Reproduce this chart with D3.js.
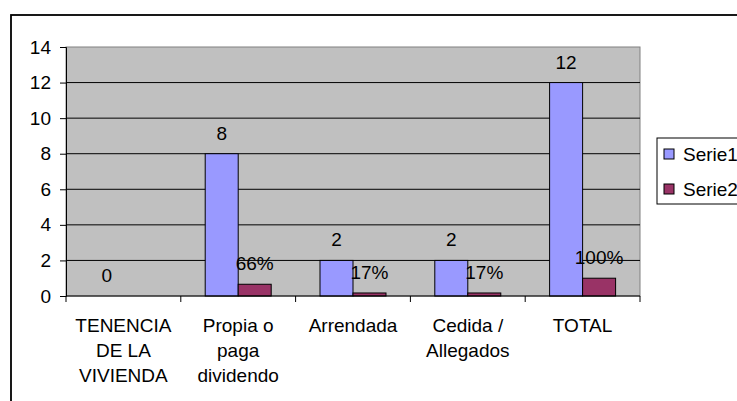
<!DOCTYPE html>
<html>
<head>
<meta charset="utf-8">
<script src="https://cdn.jsdelivr.net/npm/d3@7"></script>
<style>
  html, body { margin: 0; padding: 0; background: #fff; }
  svg { display: block; font-family: "Liberation Sans", Arial, sans-serif; }
</style>
</head>
<body>
<script>
// chart data
const categories = [["TENENCIA", "DE LA", "VIVIENDA"], ["Propia o", "paga", "dividendo"], ["Arrendada"], ["Cedida /", "Allegados"], ["TOTAL"]];
const serie1 = [0, 8, 2, 2, 12];
const serie2 = [null, 0.66, 0.17, 0.17, 1];
const serie2Labels = [null, "66%", "17%", "17%", "100%"];
const yTicks = [0, 2, 4, 6, 8, 10, 12, 14];
const seriesNames = ["Serie1", "Serie2"];
const colors = ["#9999FF", "#993366"];

const width = 737, height = 401;
const plot = { left: 66, top: 47, right: 640, bottom: 296 };
const fontSize = 19;

const svg = d3.select("body").append("svg")
    .attr("width", width)
    .attr("height", height);

// outer chart border (cut off at right and bottom)
svg.append("rect")
    .attr("x", 11).attr("y", 15)
    .attr("width", width + 20).attr("height", height + 20)
    .attr("fill", "#fff")
    .attr("stroke", "#000")
    .attr("stroke-width", 1.8);

const x = d3.scaleBand()
    .domain(d3.range(categories.length))
    .range([plot.left, plot.right]);
const inner = d3.scaleBand()
    .domain([0, 1])
    .range([0, 66])
    .paddingInner(0);
const y = d3.scaleLinear()
    .domain([0, 14])
    .range([plot.bottom, plot.top]);

// plot area
svg.append("rect")
    .attr("x", plot.left).attr("y", plot.top)
    .attr("width", plot.right - plot.left).attr("height", plot.bottom - plot.top)
    .attr("fill", "#C0C0C0")
    .attr("stroke", "#808080")
    .attr("stroke-width", 1);

// gridlines
svg.append("g")
    .selectAll("line")
    .data(yTicks.slice(1, -1))
    .join("line")
    .attr("x1", plot.left).attr("x2", plot.right)
    .attr("y1", d => y(d)).attr("y2", d => y(d))
    .attr("stroke", "#000")
    .attr("stroke-width", 1);

// y axis
const yAxis = svg.append("g")
    .attr("transform", `translate(${plot.left},0)`)
    .call(d3.axisLeft(y).tickValues(yTicks).tickSize(6).tickPadding(9));
yAxis.selectAll("text").attr("font-size", fontSize).attr("fill", "#000").attr("font-family", null);
yAxis.selectAll("line, path").attr("stroke", "#000");

const offset = (x.bandwidth() - inner.range()[1]) / 2;

// bars
const s1 = serie1.map((v, i) => ({ i, v, s: 0 }));
const s2 = serie2.map((v, i) => ({ i, v, s: 1, label: serie2Labels[i] })).filter(d => d.v != null);

svg.append("g")
    .selectAll("rect")
    .data(s1.concat(s2).filter(d => d.v > 0))
    .join("rect")
    .attr("x", d => x(d.i) + offset + inner(d.s))
    .attr("y", d => y(d.v))
    .attr("width", inner.bandwidth())
    .attr("height", d => y(0) - y(d.v))
    .attr("fill", d => colors[d.s])
    .attr("stroke", "#000")
    .attr("stroke-width", 1);

// x axis
const xAxis = svg.append("g")
    .attr("transform", `translate(0,${plot.bottom})`);
xAxis.append("line")
    .attr("x1", plot.left).attr("x2", plot.right)
    .attr("stroke", "#000");
xAxis.selectAll("line.tick")
    .data(d3.range(categories.length + 1))
    .join("line")
    .attr("class", "tick")
    .attr("x1", d => d < categories.length ? x(d) : plot.right)
    .attr("x2", d => d < categories.length ? x(d) : plot.right)
    .attr("y1", 0).attr("y2", 6)
    .attr("stroke", "#000");

const catLabels = svg.append("g")
    .attr("font-size", fontSize)
    .attr("text-anchor", "middle");
categories.forEach((lines, i) => {
    const t = catLabels.append("text")
        .attr("x", x(i) + x.bandwidth() / 2)
        .attr("y", plot.bottom + 36);
    lines.forEach((l, k) => {
        t.append("tspan")
            .attr("x", x(i) + x.bandwidth() / 2)
            .attr("dy", k === 0 ? 0 : 25)
            .text(l);
    });
});

// data labels
const labels = svg.append("g")
    .attr("font-size", fontSize)
    .attr("text-anchor", "middle");
labels.selectAll("text.s1")
    .data(s1)
    .join("text")
    .attr("class", "s1")
    .attr("x", d => x(d.i) + offset + inner(d.s) + inner.bandwidth() / 2)
    .attr("y", d => y(d.v) - 14)
    .text(d => d.v);
labels.selectAll("text.s2")
    .data(s2)
    .join("text")
    .attr("class", "s2")
    .attr("x", d => x(d.i) + offset + inner(d.s) + inner.bandwidth() / 2)
    .attr("y", d => y(d.v) - 14)
    .text(d => d.label);

// legend
const legend = svg.append("g").attr("transform", "translate(657,138)");
legend.append("rect")
    .attr("width", 100).attr("height", 66)
    .attr("fill", "#fff")
    .attr("stroke", "#000")
    .attr("stroke-width", 1);
seriesNames.forEach((name, i) => {
    const g = legend.append("g").attr("transform", `translate(0,${16 + i * 35})`);
    g.append("rect")
        .attr("x", 7).attr("y", -5)
        .attr("width", 10).attr("height", 10)
        .attr("fill", colors[i])
        .attr("stroke", "#000");
    g.append("text")
        .attr("x", 26).attr("y", 7)
        .attr("font-size", fontSize)
        .text(name);
});
</script>
</body>
</html>
